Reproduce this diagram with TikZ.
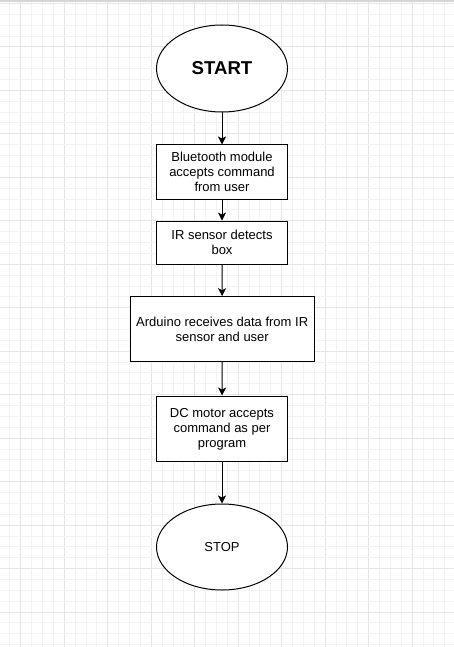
\documentclass[tikz,border=0pt]{standalone}
\usepackage{fontspec}
\setmainfont{Liberation Sans}
\usetikzlibrary{shapes.geometric,arrows.meta}
\definecolor{gridminor}{HTML}{F3F3F3}
\definecolor{gridmajor}{HTML}{E6E6E6}
\definecolor{topbar}{HTML}{D6D6D6}

\tikzset{
  stepbox/.style={draw,line width=1pt,fill=white,align=center,
    font=\fontsize{13}{15}\selectfont,inner sep=0pt,minimum width=131pt},
  terminal/.style={ellipse,draw,line width=1pt,fill=white,inner sep=0pt,
    minimum width=131pt,minimum height=87pt},
  flow/.style={-{Stealth[length=8pt,width=8pt,inset=2pt]},line width=1pt}
}

\begin{document}
\begin{tikzpicture}[x=1pt,y=-1pt]
    % --- fondo: papel cuadriculado ---
    \useasboundingbox (0,0) rectangle (454,647);
    \fill[white] (0,0) rectangle (454,647);
    \foreach \k in {1,...,42}{
      \pgfmathsetmacro{\gx}{-0.9+\k*10.87}
      \pgfmathtruncatemacro{\gm}{mod(\k,4)}
      \ifnum\gm=2 \def\gc{gridmajor}\else\def\gc{gridminor}\fi
      \draw[\gc,line width=1pt] (\gx,0) -- (\gx,647);
    }
    \foreach \k in {0,...,59}{
      \pgfmathsetmacro{\gy}{3.4+\k*10.87}
      \pgfmathtruncatemacro{\gm}{mod(\k,4)}
      \ifnum\gm=0 \def\gc{gridmajor}\else\def\gc{gridminor}\fi
      \draw[\gc,line width=1pt] (0,\gy) -- (454,\gy);
    }
    \fill[topbar] (0,0) rectangle (454,1.6);
    % --- diagrama de flujo ---
    \node[terminal,font=\fontsize{18.6}{20}\selectfont\bfseries] (start) at (222,68.5) {START};
    \node[stepbox,minimum height=54pt] (bluetooth) at (222,172) {Bluetooth module\\accepts command\\from user};
    \node[stepbox,minimum height=43.3pt] (irsensor) at (222,242.7) {IR sensor detects\\box};
    \node[stepbox,minimum width=184.3pt,minimum height=65pt] (arduino) at (222.2,329.2) {Arduino receives data from IR\\sensor and user};
    \node[stepbox,minimum height=65.7pt] (dcmotor) at (222,428.9) {DC motor accepts\\command as per\\program};
    \node[terminal,minimum height=86pt,font=\fontsize{13}{15}\selectfont] (stop) at (222,547) {STOP};
    % conectores
    \draw[flow] (start) -- (bluetooth);
    \draw[flow] (bluetooth) -- (irsensor);
    \draw[flow] (irsensor) -- (arduino);
    \draw[flow] (arduino) -- (dcmotor);
    \draw[flow] (dcmotor) -- (stop);
\end{tikzpicture}
\end{document}
